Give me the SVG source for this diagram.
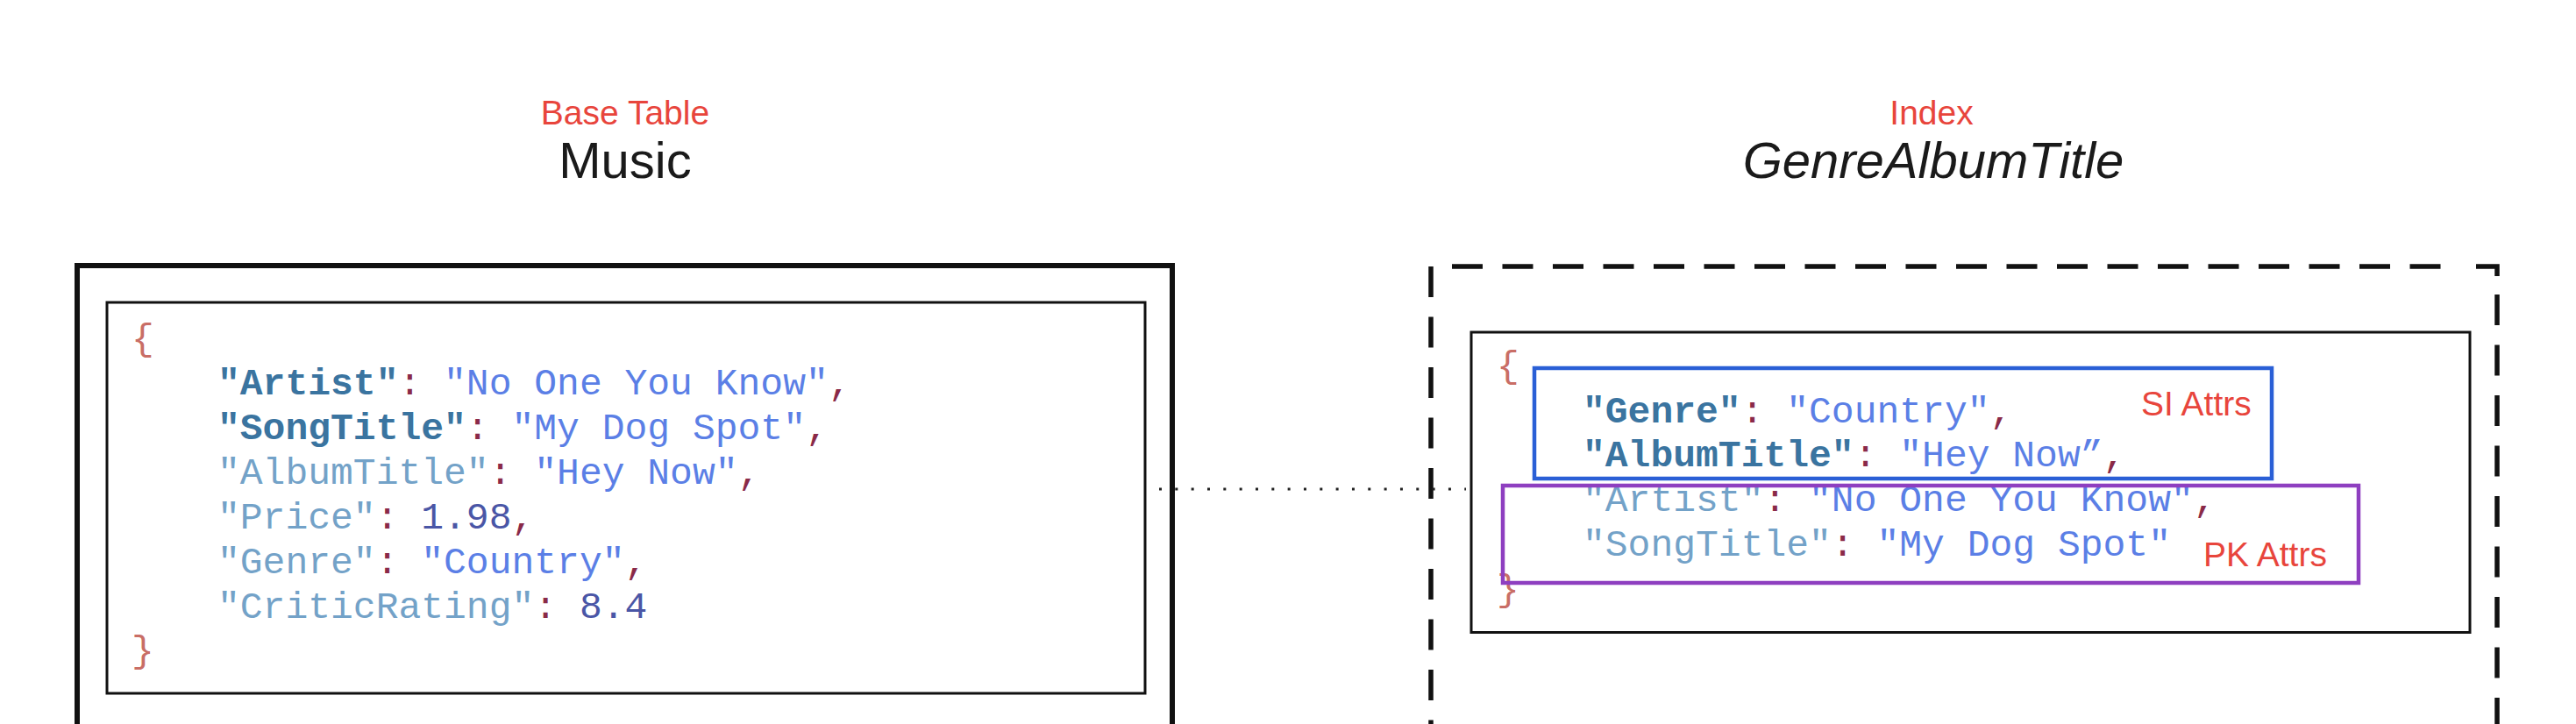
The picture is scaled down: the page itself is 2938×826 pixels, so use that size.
<svg xmlns="http://www.w3.org/2000/svg" width="2938" height="826" viewBox="0 0 2938 826">
<style>
.title{font-family:"Liberation Sans",Arial,sans-serif;font-size:58px;fill:#1a1a1a;text-anchor:middle}
.label{font-family:"Liberation Sans",Arial,sans-serif;font-size:39px;fill:#e8453c}
.tag{font-family:"Liberation Sans",Arial,sans-serif;font-size:39px;fill:#e8453c}
.code{font-family:"Liberation Mono","Courier New",monospace;font-size:43px;white-space:pre}
.kb{fill:#3a74a0;font-weight:bold}
.kl{fill:#73a2c8}
.s{fill:#5b7fe6}
.p{fill:#8a2a48}
.n{fill:#4a56a6}
.br{fill:#c96e66}
.box{fill:none;stroke:#111}
</style>
<rect width="2938" height="826" fill="#ffffff"/>

<g id="base-table">
<text class="label" x="713" y="142" text-anchor="middle">Base Table</text>
<text class="title" x="713" y="203">Music</text>
<rect class="box" x="88" y="303" width="1249" height="600" stroke-width="6"/>
<rect class="box" x="122" y="345" width="1184" height="446" stroke-width="3"/>
<text class="code" xml:space="preserve"><tspan class="br" x="150" y="399">{</tspan><tspan x="248" y="449.5"><tspan class="kb">"Artist"</tspan><tspan class="p">:</tspan> <tspan class="s">"No One You Know"</tspan><tspan class="p">,</tspan></tspan><tspan x="248" y="500.5"><tspan class="kb">"SongTitle"</tspan><tspan class="p">:</tspan> <tspan class="s">"My Dog Spot"</tspan><tspan class="p">,</tspan></tspan><tspan x="248" y="551.5"><tspan class="kl">"AlbumTitle"</tspan><tspan class="p">:</tspan> <tspan class="s">"Hey Now"</tspan><tspan class="p">,</tspan></tspan><tspan x="248" y="602.5"><tspan class="kl">"Price"</tspan><tspan class="p">:</tspan> <tspan class="n">1.98</tspan><tspan class="p">,</tspan></tspan><tspan x="248" y="653.5"><tspan class="kl">"Genre"</tspan><tspan class="p">:</tspan> <tspan class="s">"Country"</tspan><tspan class="p">,</tspan></tspan><tspan x="248" y="704.5"><tspan class="kl">"CriticRating"</tspan><tspan class="p">:</tspan> <tspan class="n">8.4</tspan></tspan><tspan class="br" x="150" y="755">}</tspan></text>
</g>

<g id="index">
<text class="label" x="2203" y="142" text-anchor="middle">Index</text>
<text class="title" x="2205" y="203" font-style="italic">GenreAlbumTitle</text>
<g class="box" stroke-width="5.5">
<path d="M1632 304 V826" stroke-dasharray="35 22.5"/>
<path d="M1656 304 H2800" stroke-dasharray="35 22.5"/>
<path d="M2824 304 H2848 V315"/>
<path d="M2848 336 V826" stroke-dasharray="35 22.5"/>
</g>
<rect class="box" x="1678" y="379" width="1139" height="342.5" stroke-width="3"/>
<text class="code" xml:space="preserve"><tspan class="br" x="1707" y="430">{</tspan><tspan x="1805" y="481.5"><tspan class="kb">"Genre"</tspan><tspan class="p">:</tspan> <tspan class="s">"Country"</tspan><tspan class="p">,</tspan></tspan><tspan x="1805" y="532"><tspan class="kb">"AlbumTitle"</tspan><tspan class="p">:</tspan> <tspan class="s">"Hey Now”</tspan><tspan class="p">,</tspan></tspan><tspan x="1805" y="583"><tspan class="kl">"Artist"</tspan><tspan class="p">:</tspan> <tspan class="s">"No One You Know"</tspan><tspan class="p">,</tspan></tspan><tspan x="1805" y="633.5"><tspan class="kl">"SongTitle"</tspan><tspan class="p">:</tspan> <tspan class="s">"My Dog Spot"</tspan></tspan><tspan class="br" x="1707" y="685">}</tspan></text>
</g>

<g id="si-attrs">
<rect x="1750" y="420" width="841" height="126" fill="none" stroke="#2a5fd6" stroke-width="4.5"/>
<text class="tag" x="2442" y="474">SI Attrs</text>
</g>

<g id="pk-attrs">
<rect x="1714" y="554" width="976" height="111" fill="none" stroke="#8e3fc0" stroke-width="4.5"/>
<text class="tag" x="2513" y="646">PK Attrs</text>
</g>

<g id="connectors">
<line x1="1322" y1="558" x2="1672" y2="558" stroke="#222" stroke-width="3" stroke-dasharray="3 15.33"/>
</g>
</svg>
